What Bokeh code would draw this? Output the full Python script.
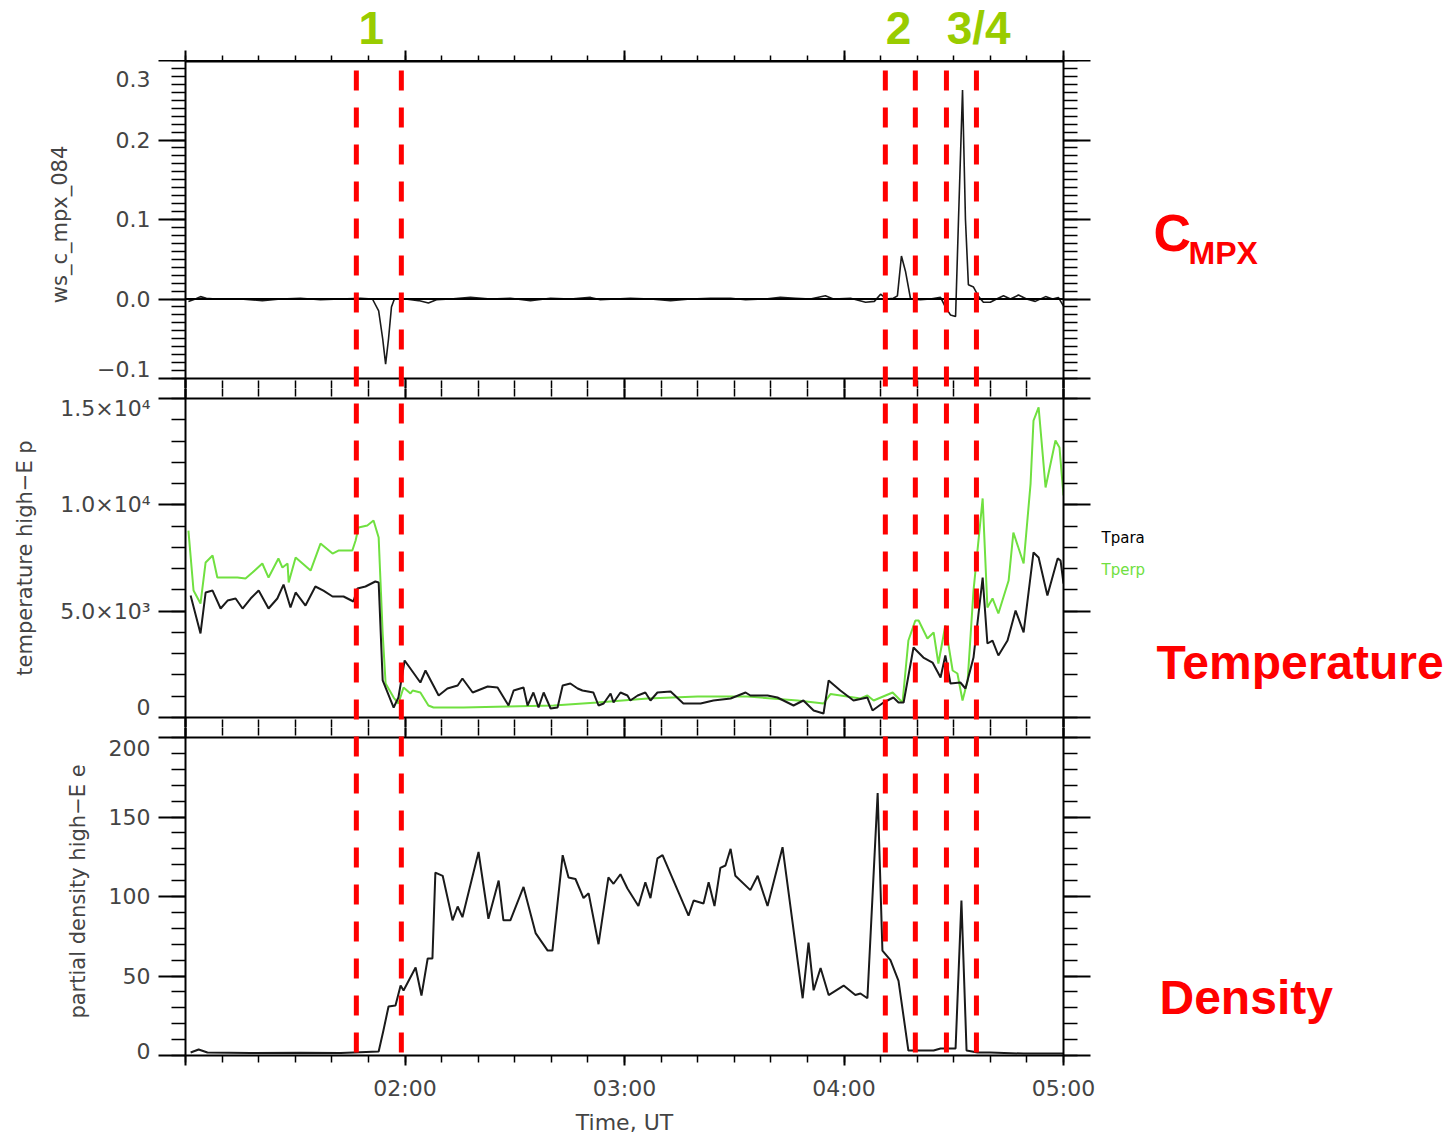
from bokeh.plotting import figure
from bokeh.layouts import column, row
from bokeh.models import Range1d, LinearAxis, FixedTicker, Span, Label, CustomJSTickFormatter
from bokeh.embed import file_html
from bokeh.resources import INLINE

# ---------------- data (x = minutes after 01:00 UT) ----------------
cmpx_t = [0.8, 2.7, 4.1, 5.7, 8.2, 15.0, 21.0, 26.0, 31.4, 36.9, 42.4, 47.8, 51.1, 52.8, 53.9,
          54.7, 55.5, 56.3, 57.1, 60.1, 63.7, 66.4, 68.6, 72.4, 77.9, 83.4, 88.8, 94.3, 99.8,
          105.2, 110.7, 113.4, 117.5, 121.6, 127.1, 132.6, 138.0, 143.5, 149.0, 153.1, 158.5,
          162.6, 166.7, 170.8, 174.9, 177.1, 181.8, 185.9, 188.3, 190.0, 191.6, 193.5, 194.6,
          195.7, 196.8, 198.2, 200.9, 203.6, 206.4, 207.7, 209.1, 210.5, 211.3, 212.4, 213.2,
          214.0, 215.4, 216.8, 218.1, 220.0, 221.7, 223.6, 225.5, 227.7, 229.9, 232.3, 235.1,
          237.0, 238.6, 240.0]
cmpx_v = [-0.003, 0.0, 0.003, 0.001, 0.0, 0.0, -0.002, 0.0, 0.001, -0.001, 0.0, 0.001, 0.0,
          -0.015, -0.05, -0.082, -0.05, -0.01, 0.0, 0.0, -0.002, -0.005, -0.001, 0.0, 0.002,
          0.0, 0.001, -0.002, 0.001, 0.0, 0.002, -0.001, 0.0, 0.001, 0.0, -0.002, 0.0, 0.001,
          0.001, -0.001, 0.0, 0.002, 0.001, 0.0, 0.004, 0.0, 0.001, -0.004, -0.003, 0.006, 0.0,
          0.001, 0.004, 0.054, 0.035, 0.0, -0.001, 0.0, 0.002, -0.01, -0.02, -0.022, 0.1, 0.263,
          0.1, 0.018, 0.015, 0.003, -0.004, -0.004, 0.0, 0.004, 0.0, 0.005, 0.0, -0.003, 0.003,
          0.0, 0.002, -0.009]

tpara_t = [1.4, 4.1, 5.5, 7.4, 9.6, 11.5, 13.7, 15.6, 17.8, 20.0, 22.7, 25.1, 26.8, 28.7, 30.1,
           32.8, 35.5, 37.7, 40.2, 43.2, 45.9, 47.0, 49.2, 51.9, 52.8, 53.9, 56.9, 58.2, 59.9,
           64.2, 65.6, 69.2, 71.6, 74.4, 75.7, 78.5, 82.6, 85.3, 88.3, 89.7, 92.4, 93.5, 95.1,
           96.5, 97.9, 99.8, 101.7, 103.1, 105.2, 107.2, 108.5, 111.5, 112.9, 114.3, 116.2,
           117.0, 118.9, 120.8, 121.6, 123.6, 125.7, 127.1, 129.0, 132.6, 136.1, 140.8, 144.3,
           149.0, 153.1, 154.4, 159.1, 161.8, 166.2, 168.9, 171.7, 174.4, 175.8, 179.0, 182.6,
           186.4, 187.8, 190.8, 193.5, 194.9, 196.3, 199.0, 201.7, 204.2, 206.4, 207.7, 209.1,
           211.8, 213.2, 215.4, 217.9, 219.2, 220.6, 222.2, 224.7, 226.9, 229.1, 231.8, 233.2,
           235.6, 238.4, 239.2, 240.0]
tpara_v = [5737, 3950, 5877, 5970, 5125, 5500, 5595, 5125, 5595, 5970, 5125, 5595, 6250, 5170,
           5880, 5265, 6160, 5970, 5690, 5690, 5455, 6065, 6160, 6395, 6350, 1740, 470, 940,
           2680, 1645, 2210, 1035, 1364, 1505, 1834, 1175, 1457, 1410, 564, 1270, 1410, 564,
           1175, 470, 1175, 423, 470, 1505, 1599, 1364, 1270, 1175, 564, 658, 1128, 705, 1175,
           1035, 800, 1035, 1175, 800, 1175, 1222, 658, 658, 800, 893, 1175, 1035, 1035, 940,
           564, 800, 329, 188, 1740, 1270, 800, 940, 329, 705, 940, 705, 705, 3290, 2820, 2586,
           1880, 2915, 1600, 1645, 1364, 2820, 6580, 3480, 3620, 2915, 3620, 5030, 4000, 7760,
           7520, 5740, 7480, 7380, 6300]

tperp_t = [0.8, 2.2, 4.1, 5.5, 7.4, 8.7, 14.2, 16.4, 18.3, 21.0, 22.7, 25.4, 26.5, 27.9, 28.2,
           30.1, 34.2, 36.9, 40.2, 41.8, 45.6, 46.5, 47.3, 49.7, 51.4, 52.8, 53.9, 54.7, 56.9,
           58.2, 59.6, 61.5, 62.1, 64.2, 66.4, 67.8, 76.0, 88.0, 100.6, 112.6, 126.3, 140.0,
           153.6, 167.3, 174.4, 176.3, 184.5, 186.4, 188.1, 193.3, 196.0, 197.6, 199.5, 200.4,
           202.8, 204.5, 205.8, 207.7, 209.7, 211.0, 212.4, 213.8, 215.4, 217.9, 219.2, 220.6,
           222.2, 225.0, 226.3, 229.1, 231.0, 231.8, 233.2, 235.1, 237.8, 238.9, 240.0]
tperp_v = [8790, 5970, 5360, 7290, 7620, 6580, 6580, 6535, 6815, 7240, 6580, 7475, 7050, 7240,
           6350, 7520, 6910, 8180, 7710, 7850, 7850, 8320, 8930, 9030, 9260, 8460, 3950, 1600,
           940, 658, 1410, 1128, 1270, 1175, 564, 470, 470, 517, 564, 705, 893, 987, 987, 800,
           658, 1100, 893, 1035, 800, 1175, 705, 3620, 4560, 4560, 3715, 4000, 2540, 4325, 2210,
           2070, 800, 1740, 5970, 10300, 5170, 5600, 4890, 6440, 8700, 7240, 11000, 13965,
           14580, 10815, 13025, 12700, 10440]

dens_t = [1.4, 3.6, 6.0, 17.8, 31.4, 42.4, 52.8, 54.1, 55.5, 57.4, 58.8, 59.6, 62.9, 64.5, 66.2,
          67.5, 68.3, 70.3, 73.0, 74.4, 75.7, 80.1, 82.8, 85.6, 86.9, 88.8, 92.4, 95.7, 99.0,
          100.3, 103.1, 104.7, 106.6, 108.8, 110.2, 112.9, 115.6, 117.0, 118.9, 120.8, 123.8,
          125.7, 127.1, 129.0, 130.4, 137.5, 138.9, 141.6, 143.0, 144.6, 146.2, 147.6, 149.0,
          150.3, 154.4, 156.4, 159.1, 163.2, 168.7, 170.3, 171.7, 173.6, 175.8, 179.9, 183.1,
          184.5, 186.4, 189.2, 190.5, 192.7, 194.9, 197.6, 204.5, 206.4, 210.5, 212.1, 213.5,
          216.5, 220.0, 229.1, 240.0]
dens_v = [1.9, 3.8, 1.9, 1.6, 1.8, 1.6, 2.5, 15.7, 30.8, 31.4, 44, 40.9, 55.3, 37.7, 61, 61,
          115, 113, 85, 93.7, 87, 128, 86, 110, 85, 85, 106, 77, 66, 66, 126, 112, 111, 99, 102,
          70, 112, 108, 114, 105, 94, 109, 99, 124, 126, 88, 97.5, 95.6, 109, 94, 118, 119.5,
          130, 113, 104, 113, 94, 131, 36, 71, 41, 55, 38, 44, 38, 39, 36, 165, 66, 60, 47, 3.1,
          3.1, 4.4, 4.4, 97.5, 3.1, 1.9, 1.9, 1.2, 1.2]

event_t = [46.7, 59.0, 191.3, 199.5, 208.0, 216.2]
event_label_t = [50.8, 194.9, 216.8]
event_labels = ["1", "2", "3/4"]

hour_ticks = [0, 60, 120, 180, 240]
hour_labels = ["", "02:00", "03:00", "04:00", "05:00"]
cmpx_ticks = [-0.1, 0.0, 0.1, 0.2, 0.3]
cmpx_labels = ["\u22120.1", "0.0", "0.1", "0.2", "0.3"]
temp_ticks = [0, 5000, 10000, 15000]
temp_labels = ["0", "5.0\u00d710\u00b3", "1.0\u00d710\u2074", "1.5\u00d710\u2074"]
dens_ticks = [0, 50, 100, 150, 200]
dens_labels = ["0", "50", "100", "150", "200"]

# ---------------- styling / layout ----------------
LEFT, RIGHT = 185, 37
MAIN_W = 1100
SIDE_W = 1451 - MAIN_W
GREY = "#444444"
TICK_FONT = "DejaVu Sans"
GREEN = "#70E040"
RED = "#FF0000"
LIME = "#99CC00"
BASE_FIX = 0.38          # em shift so that labels sit on the wanted baseline
hour_minor = list(range(0, 241, 10))

xr = Range1d(0, 240)
empty_fmt = CustomJSTickFormatter(code="return ''")


def make_fig(w, h, yr, bt, bb, bl=LEFT, br=RIGHT, x_range=None):
    p = figure(width=w, height=h, x_range=x_range if x_range is not None else xr, y_range=yr,
               output_backend="svg", toolbar_location=None,
               x_axis_location=None, y_axis_location=None, min_border=0,
               min_border_left=bl, min_border_right=br,
               min_border_top=bt, min_border_bottom=bb)
    p.outline_line_color = None
    p.grid.visible = False
    p.background_fill_color = "white"
    p.border_fill_color = "white"
    return p


def y_axes(p, ticks, minor, labels, title, standoff, lh):
    shown = list(labels)
    shown[0] = shown[0] + "\n"      # lowest label sits just above its tick
    shown[-1] = "\n" + shown[-1]    # highest label sits just below its tick
    ax = LinearAxis(ticker=FixedTicker(ticks=ticks, minor_ticks=minor),
                    major_label_overrides=dict(zip(ticks, shown)),
                    axis_label=title, axis_label_standoff=standoff,
                    axis_label_text_font=TICK_FONT, axis_label_text_font_size="21px",
                    axis_label_text_font_style="normal", axis_label_text_color=GREY,
                    major_label_text_font=TICK_FONT, major_label_text_font_size="22px",
                    major_label_text_color=GREY, major_label_standoff=8,
                    major_label_text_line_height=lh,
                    major_tick_out=27, major_tick_in=0, minor_tick_out=14, minor_tick_in=0,
                    axis_line_width=2, major_tick_line_width=2, minor_tick_line_width=1.5)
    p.add_layout(ax, "left")
    ax2 = LinearAxis(ticker=FixedTicker(ticks=ticks, minor_ticks=minor),
                     formatter=empty_fmt, major_label_text_font_size="0px",
                     major_label_standoff=0,
                     major_tick_out=27, major_tick_in=0, minor_tick_out=14, minor_tick_in=0,
                     axis_line_width=2, major_tick_line_width=2, minor_tick_line_width=1.5)
    p.add_layout(ax2, "right")


def inner_x_axis(p, side, major_in=10, minor_in=8, line_width=None):
    ax = LinearAxis(ticker=FixedTicker(ticks=hour_ticks, minor_ticks=hour_minor),
                    formatter=empty_fmt, major_label_text_font_size="0px",
                    major_label_standoff=0, axis_label_standoff=0,
                    major_tick_out=0, minor_tick_out=0, major_tick_in=major_in,
                    minor_tick_in=minor_in, major_tick_line_width=2, minor_tick_line_width=1.5)
    if line_width is None:
        ax.axis_line_color = None
    else:
        ax.axis_line_width = line_width
    p.add_layout(ax, side)


def events(p, offset):
    for t in event_t:
        p.add_layout(Span(location=t, dimension="height", line_color=RED, line_width=5,
                          line_dash="20 17", line_dash_offset=offset))


# ---------------- strip with event numbers (and the upward top ticks) ----------------
STRIP_H = 60
strip = make_fig(MAIN_W, STRIP_H, Range1d(0, 1), 0, 0)
inner_x_axis(strip, "below", major_in=10, minor_in=5)
for t, s in zip(event_label_t, event_labels):
    strip.add_layout(Label(x=t, y=STRIP_H - 45 + BASE_FIX * 46, x_units="data",
                           y_units="screen", text=s, text_align="center",
                           text_baseline="alphabetic", text_font="Liberation Sans",
                           text_font_style="bold", text_font_size="46px", text_color=LIME))

# ---------------- top panel: C_MPX ----------------
H1, H2, H3 = 328, 339, 411
pad1 = 10 / 318 * 0.4
p1 = make_fig(MAIN_W, H1, Range1d(-0.1 - pad1, 0.3), 0, 0)
inner_x_axis(p1, "above", major_in=0, minor_in=0, line_width=4)
inner_x_axis(p1, "below")
y_axes(p1, cmpx_ticks, [round(-0.1 + 0.01 * i, 2) for i in range(41)], cmpx_labels,
       "ws_c_mpx_084", 22, 0.25)
p1.add_layout(Span(location=0.0, dimension="width", line_color="black", line_width=2))
p1.add_layout(Span(location=-0.1, dimension="width", line_color="black", line_width=2))
p1.line(cmpx_t, cmpx_v, line_color="#1a1a1a", line_width=1.6)
events(p1, 27)

# ---------------- middle panel: temperature ----------------
pad2 = 10 / 319 * 15000
p2 = make_fig(MAIN_W, H2, Range1d(-pad2, 15000 + pad2), 0, 0)
inner_x_axis(p2, "above")
inner_x_axis(p2, "below")
y_axes(p2, temp_ticks, list(range(0, 15001, 1000)), temp_labels,
       "temperature high\u2212E p", 20, 0.3)
p2.add_layout(Span(location=15000, dimension="width", line_color="black", line_width=2))
p2.add_layout(Span(location=0, dimension="width", line_color="black", line_width=2))
p2.line(tperp_t, tperp_v, line_color=GREEN, line_width=2)
p2.line(tpara_t, tpara_v, line_color="#1a1a1a", line_width=2)
events(p2, (27 + H1) % 37)

# ---------------- bottom panel: density ----------------
pad3 = 10 / 318 * 200
p3 = make_fig(MAIN_W, H3, Range1d(0, 200 + pad3), 0, 83)
inner_x_axis(p3, "above")
bot_ax = LinearAxis(ticker=FixedTicker(ticks=hour_ticks, minor_ticks=hour_minor),
                    major_label_overrides=dict(zip(hour_ticks, hour_labels)),
                    axis_label="Time, UT", axis_label_standoff=6,
                    axis_label_text_font=TICK_FONT, axis_label_text_font_size="22px",
                    axis_label_text_font_style="normal", axis_label_text_color=GREY,
                    major_label_text_font=TICK_FONT, major_label_text_font_size="22px",
                    major_label_text_color=GREY, major_label_standoff=10,
                    major_tick_out=10, minor_tick_out=7, major_tick_in=0, minor_tick_in=0,
                    axis_line_width=2, major_tick_line_width=2, minor_tick_line_width=1.5)
p3.add_layout(bot_ax, "below")
y_axes(p3, dens_ticks, list(range(0, 201, 10)), dens_labels,
       "partial density high\u2212E e", 16, 0.35)
p3.add_layout(Span(location=200, dimension="width", line_color="black", line_width=2))
p3.line(dens_t, dens_v, line_color="#1a1a1a", line_width=2)
events(p3, (27 + H1 + H2) % 37)

# ---------------- right-hand annotation column ----------------
TOTAL_H = STRIP_H + H1 + H2 + H3
side = make_fig(SIDE_W, TOTAL_H, Range1d(0, 1), 0, 0, bl=0, br=0, x_range=Range1d(0, 1))


def side_label(text, cx, baseline, size, color, bold=True, font="Liberation Sans"):
    side.add_layout(Label(x=cx - MAIN_W, y=TOTAL_H - baseline + BASE_FIX * size,
                          x_units="screen", y_units="screen", text=text,
                          text_baseline="alphabetic", text_font=font,
                          text_font_style="bold" if bold else "normal",
                          text_font_size=f"{size}px", text_color=color))


side_label("C", 1153, 252, 52, RED)
side_label("MPX", 1188, 265, 32, RED)
side_label("Tpara", 1101, 543, 15, "black", bold=False, font=TICK_FONT)
side_label("Tperp", 1101, 575, 15, GREEN, bold=False, font=TICK_FONT)
side_label("Temperature", 1156, 680, 48, RED)
side_label("Density", 1159, 1015, 48, RED)

layout = row(column(strip, p1, p2, p3, spacing=0), side, spacing=0)
open("out.html", "w").write(file_html(layout, INLINE))
